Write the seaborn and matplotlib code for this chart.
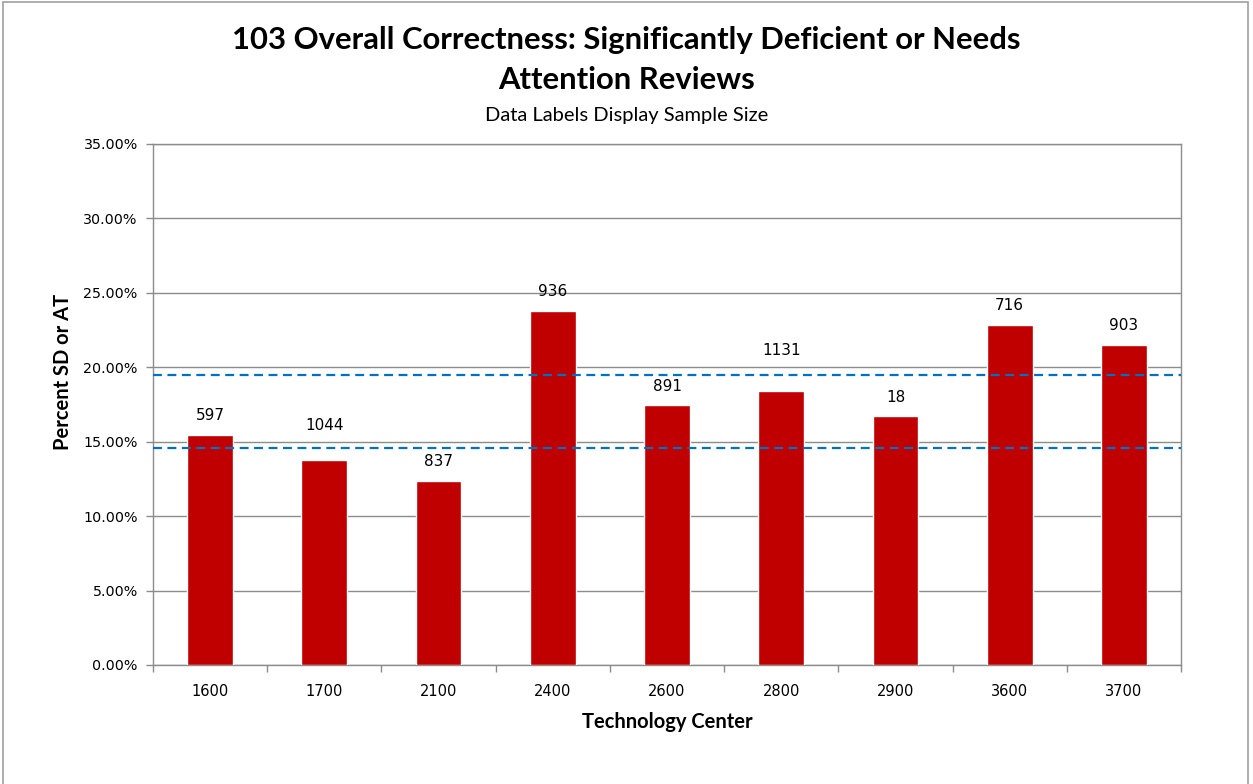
import numpy as np
import pandas as pd
import matplotlib
matplotlib.use("Agg")
import matplotlib.pyplot as plt
from matplotlib.ticker import PercentFormatter, FixedLocator
from matplotlib.patches import Rectangle
import seaborn as sns

# ── DATA ──────────────────────────────────────────────────
tech_centers = ["1600", "1700", "2100", "2400", "2600", "2800", "2900", "3600", "3700"]
pct_sd_at = [0.1547, 0.1374, 0.1239, 0.2380, 0.1745, 0.1842, 0.1673, 0.2286, 0.2151]
sample_sizes = [597, 1044, 837, 936, 891, 1131, 18, 716, 903]
ref_lines = [0.1950, 0.1455]
# labels for these two sit a bit higher in the original
label_extra = {"1700": 0.0105, "2800": 0.0145}

df = pd.DataFrame({"TC": tech_centers, "Pct": pct_sd_at, "N": sample_sizes})

sns.set_theme(style="white")
plt.rcParams["font.family"] = ["DejaVu Sans"]
plt.rcParams["text.color"] = "black"
plt.rcParams["axes.labelcolor"] = "black"

BAR_RED = "#C00000"
LINE_BLUE = "#0070C0"
GRID = "#8C8C8C"

fig = plt.figure(figsize=(12.53, 7.84), dpi=100)
ax = fig.add_axes([153 / 1253, 1 - 665 / 784, (1181 - 153) / 1253, (665 - 144) / 784])

sns.barplot(data=df, x="TC", y="Pct", order=tech_centers, color=BAR_RED,
            width=0.4, saturation=1, ax=ax, zorder=3)

for y in ref_lines:
    ax.axhline(y, color=LINE_BLUE, lw=1.6, ls=(0, (4, 2.5)), zorder=4)

# data labels = sample size
for i, row in df.iterrows():
    ypos = row["Pct"] + 0.0127 + label_extra.get(row["TC"], 0)
    ax.text(i, ypos, f"{row['N']}", ha="center", va="center",
            fontsize=11, color="black", zorder=5)

ax.set_ylim(0, 0.35)
ax.set_xlim(-0.5, len(tech_centers) - 0.5)
ax.yaxis.set_major_locator(FixedLocator(np.arange(0, 0.351, 0.05)))
ax.yaxis.set_major_formatter(PercentFormatter(xmax=1, decimals=2))
ax.grid(axis="y", color=GRID, lw=1, zorder=0)
ax.set_axisbelow(True)

# x tick marks between categories
ax.set_xticks(np.arange(-0.5, len(tech_centers), 1), minor=True)
ax.tick_params(axis="x", which="major", bottom=False, pad=8, labelsize=10.5,
               labelcolor="black")
ax.tick_params(axis="x", which="minor", bottom=True, length=5, color=GRID,
               width=1, direction="out")
ax.tick_params(axis="y", which="major", left=True, length=5, color=GRID, width=1,
               direction="out", labelsize=10.3, pad=6, labelcolor="black")

for s in ax.spines.values():
    s.set_visible(True)
    s.set_color(GRID)
    s.set_linewidth(1)

ax.set_xlabel("Technology Center", fontsize=14.5, fontweight="bold",
              family="Lato", labelpad=9)
ax.set_ylabel("Percent SD or AT", fontsize=14.5, fontweight="bold",
              family="Lato")
ax.yaxis.set_label_coords((73 - 153) / 1028, (665 - 372) / 521)

fig.text(0.5, 1 - 40 / 784, "103 Overall Correctness: Significantly Deficient or Needs",
         ha="center", va="center", fontsize=22.3, fontweight="bold", family="Lato")
fig.text(0.5, 1 - 80 / 784, "Attention Reviews",
         ha="center", va="center", fontsize=22.3, fontweight="bold", family="Lato")
fig.text(0.5, 1 - 115 / 784, "Data Labels Display Sample Size",
         ha="center", va="center", fontsize=14.5, family="Lato")

# chart-area border
fig.patches.append(Rectangle((3 / 1253, -0.01), 1245 / 1253, 1 - 2 / 784 + 0.01,
                             transform=fig.transFigure, fill=False,
                             edgecolor="#A0A0A0", lw=1.2))

fig.savefig("out.png", dpi=100, facecolor="white")
